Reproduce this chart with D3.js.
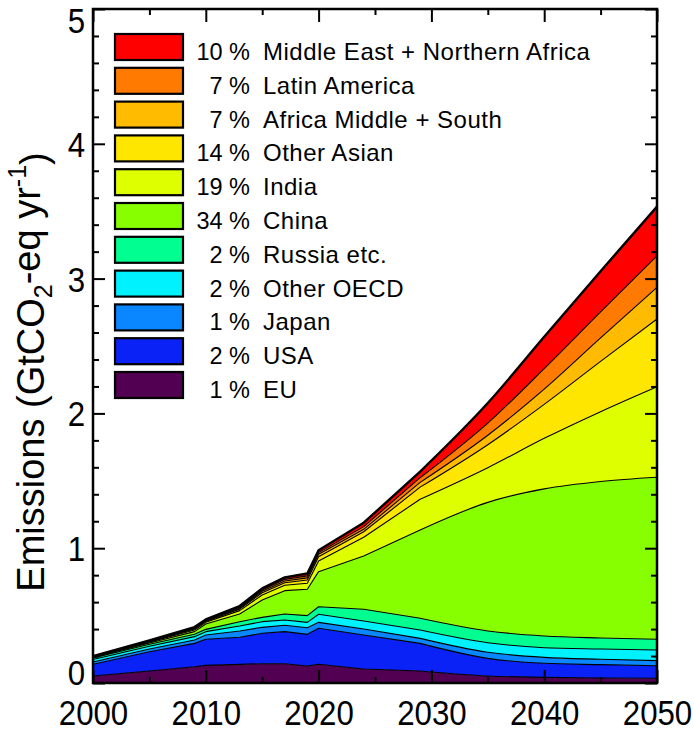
<!DOCTYPE html>
<html><head><meta charset="utf-8">
<script src="https://cdn.jsdelivr.net/npm/d3@7"></script>
<style>body{margin:0;background:#fff}svg{display:block}</style>
</head><body><svg id="c" width="694" height="733"></svg>
<script>
// ---------- data ----------
const years = [2000,2005,2009,2010,2013,2015,2017,2019,2020,2024,2029,2035,2040,2045,2050];
const EU        = [.052,.089,.121,.131,.138,.143,.143,.126,.139,.104,.089,.052,.042,.037,.035];
const USA       = [.087,.143,.173,.193,.201,.226,.238,.235,.267,.252,.205,.131,.104,.099,.093];
const Japan     = [.017,.020,.025,.032,.047,.044,.047,.049,.044,.044,.037,.045,.044,.040,.038];
const OtherOECD = [.018,.020,.025,.025,.037,.042,.039,.040,.060,.060,.062,.071,.072,.076,.079];
const Russia    = [.011,.015,.017,.017,.032,.032,.045,.050,.056,.087,.087,.087,.087,.082,.079];
const China     = [.003,.010,.020,.040,.057,.129,.173,.195,.260,.395,.655,.954,1.091,1.161,1.202];
const India     = [.003,.006,.012,.012,.025,.037,.040,.045,.079,.139,.228,.257,.375,.518,.672];
const OtherAsian= [.002,.003,.007,.007,.011,.017,.019,.024,.032,.041,.090,.171,.252,.373,.502];
const AfricaMS  = [.002,.003,.005,.005,.007,.010,.013,.016,.018,.018,.035,.070,.113,.174,.235];
const LatinAm   = [.002,.003,.004,.005,.007,.010,.012,.015,.012,.020,.035,.090,.152,.193,.233];
const MENA      = [.003,.004,.006,.005,.009,.012,.015,.017,.018,.029,.045,.149,.236,.302,.366];

const regionNames = ["EU","USA","Japan","Other OECD","Russia etc.","China","India","Other Asian",
                     "Africa Middle + South","Latin America","Middle East + Northern Africa"];
const regionShares = [1,2,1,2,2,34,19,14,7,7,10];
const regionColors = ["#520052","#0a22f5","#0a86ff","#00f2ff","#00ff90","#88ff00","#deff00",
                      "#ffe600","#ffbb00","#ff7a00","#ff0000"];
const seriesValues = [EU,USA,Japan,OtherOECD,Russia,China,India,OtherAsian,AfricaMS,LatinAm,MENA];
const smoothFrom = 2029; // historical/near-term segments are piecewise linear, projection smooth

const xMajor = [2000,2010,2020,2030,2040,2050];
const xMinor = [2005,2015,2025,2035,2045];
const yMajor = [0,1,2,3,4,5];
const yMinor = d3.range(0,5.0001,0.2).map(v=>+v.toFixed(1)).filter(v=>Math.abs(v-Math.round(v))>1e-6);

// ---------- layout ----------
const svg = d3.select("#c");
const L=93, R=657, T=9, B=683;
const x = d3.scaleLinear().domain([2000,2050]).range([L,R]);
const y = d3.scaleLinear().domain([0,5]).range([B,T]);

const table = years.map((yr,i)=>{
  const o={year:yr};
  regionNames.forEach((n,k)=>o[n]=seriesValues[k][i]);
  return o;
});
const stack = d3.stack().keys(regionNames)(table);

const mk = (curve)=>({
  area: d3.area().curve(curve).x(d=>x(d.data.year)).y0(d=>y(d[0])).y1(d=>y(d[1])),
  line: d3.line().curve(curve).x(d=>x(d.data.year)).y(d=>y(d[1]))
});
const lin = mk(d3.curveLinear), smo = mk(d3.curveMonotoneX);
const early = s => s.filter(d=>d.data.year<=smoothFrom);
const late  = s => s.filter(d=>d.data.year>=smoothFrom);

const g = svg.append("g");
g.selectAll("path.a").data(stack).join("path")
  .attr("class","a").attr("d",s=>lin.area(early(s))+smo.area(late(s)))
  .attr("fill",(d,i)=>regionColors[i]).attr("stroke","none");
g.selectAll("path.l").data(stack).join("path")
  .attr("class","l").attr("d",s=>lin.line(early(s))+smo.line(late(s)).replace(/^M/,"L"))
  .attr("fill","none").attr("stroke","#000").attr("stroke-linejoin","round")
  .attr("stroke-width",(d,i)=>i===stack.length-1?2.4:1.1);

// ---------- axes ----------
const tickFont = "Liberation Sans, Arial, sans-serif";
function styleAxis(sel){
  sel.select(".domain").remove();
  sel.selectAll(".tick line").attr("stroke","#000").attr("stroke-width",2);
}
// bottom major
const xb = svg.append("g").attr("transform",`translate(0,${B})`)
  .call(d3.axisBottom(x).tickValues(xMajor).tickFormat(d3.format("d")).tickSizeInner(-13).tickSizeOuter(0).tickPadding(17));
styleAxis(xb);
xb.selectAll("text").attr("font-family",tickFont).attr("font-size",35.5).attr("fill","#000")
  .attr("transform","scale(0.88,1)");
const xbm = svg.append("g").attr("transform",`translate(0,${B})`)
  .call(d3.axisBottom(x).tickValues(xMinor).tickFormat("").tickSizeInner(-6).tickSizeOuter(0));
styleAxis(xbm);
// top
const xt = svg.append("g").attr("transform",`translate(0,${T})`)
  .call(d3.axisTop(x).tickValues(xMajor).tickFormat("").tickSizeInner(-13).tickSizeOuter(0));
styleAxis(xt);
const xtm = svg.append("g").attr("transform",`translate(0,${T})`)
  .call(d3.axisTop(x).tickValues(xMinor).tickFormat("").tickSizeInner(-6).tickSizeOuter(0));
styleAxis(xtm);
// left
const yl = svg.append("g").attr("transform",`translate(${L},0)`)
  .call(d3.axisLeft(y).tickValues(yMajor).tickFormat(d3.format("d")).tickSizeInner(-12).tickSizeOuter(0).tickPadding(9));
styleAxis(yl);
yl.selectAll("text").attr("font-family",tickFont).attr("font-size",35.5).attr("fill","#000")
  .attr("transform","scale(0.88,1)")
  .attr("dy",d=> d===0 ? "0.05em" : d===5 ? "0.66em" : "0.35em");
const ylm = svg.append("g").attr("transform",`translate(${L},0)`)
  .call(d3.axisLeft(y).tickValues(yMinor).tickFormat("").tickSizeInner(-6).tickSizeOuter(0));
styleAxis(ylm);
// right
const yr_ = svg.append("g").attr("transform",`translate(${R},0)`)
  .call(d3.axisRight(y).tickValues(yMajor).tickFormat("").tickSizeInner(-12).tickSizeOuter(0));
styleAxis(yr_);
const yrm = svg.append("g").attr("transform",`translate(${R},0)`)
  .call(d3.axisRight(y).tickValues(yMinor).tickFormat("").tickSizeInner(-6).tickSizeOuter(0));
styleAxis(yrm);

// frame
svg.append("rect").attr("x",L).attr("y",T).attr("width",R-L).attr("height",B-T)
  .attr("fill","none").attr("stroke","#000").attr("stroke-width",2.5);

// y title
const yt = svg.append("text")
  .attr("transform","translate(44,372) rotate(-90)")
  .attr("text-anchor","middle").attr("font-family",tickFont).attr("font-size",38).attr("fill","#000");
yt.append("tspan").text("Emissions (GtCO");
yt.append("tspan").attr("font-size",25).attr("dy","0.3em").text("2");
yt.append("tspan").attr("dy","-0.3em").text("-eq yr");
yt.append("tspan").attr("font-size",25).attr("dy","-0.55em").text("-1");
yt.append("tspan").attr("dy","0.55em").text(")");

// ---------- legend ----------
const legendOrder = d3.range(regionNames.length).reverse();
const lg = svg.append("g");
legendOrder.forEach((k,row)=>{
  const top = 34 + row*33.8;
  lg.append("rect").attr("x",115).attr("y",top).attr("width",68).attr("height",26)
    .attr("fill",regionColors[k]).attr("stroke","#000").attr("stroke-width",2.2);
  lg.append("text").attr("x",250).attr("y",top+26).attr("text-anchor","end")
    .attr("font-family",tickFont).attr("font-size",23.5).attr("fill","#000")
    .text(regionShares[k]+" %");
  lg.append("text").attr("x",263).attr("y",top+26)
    .attr("font-family",tickFont).attr("font-size",24).attr("letter-spacing",0.5).attr("fill","#000")
    .text(regionNames[k]);
});
</script></body></html>
